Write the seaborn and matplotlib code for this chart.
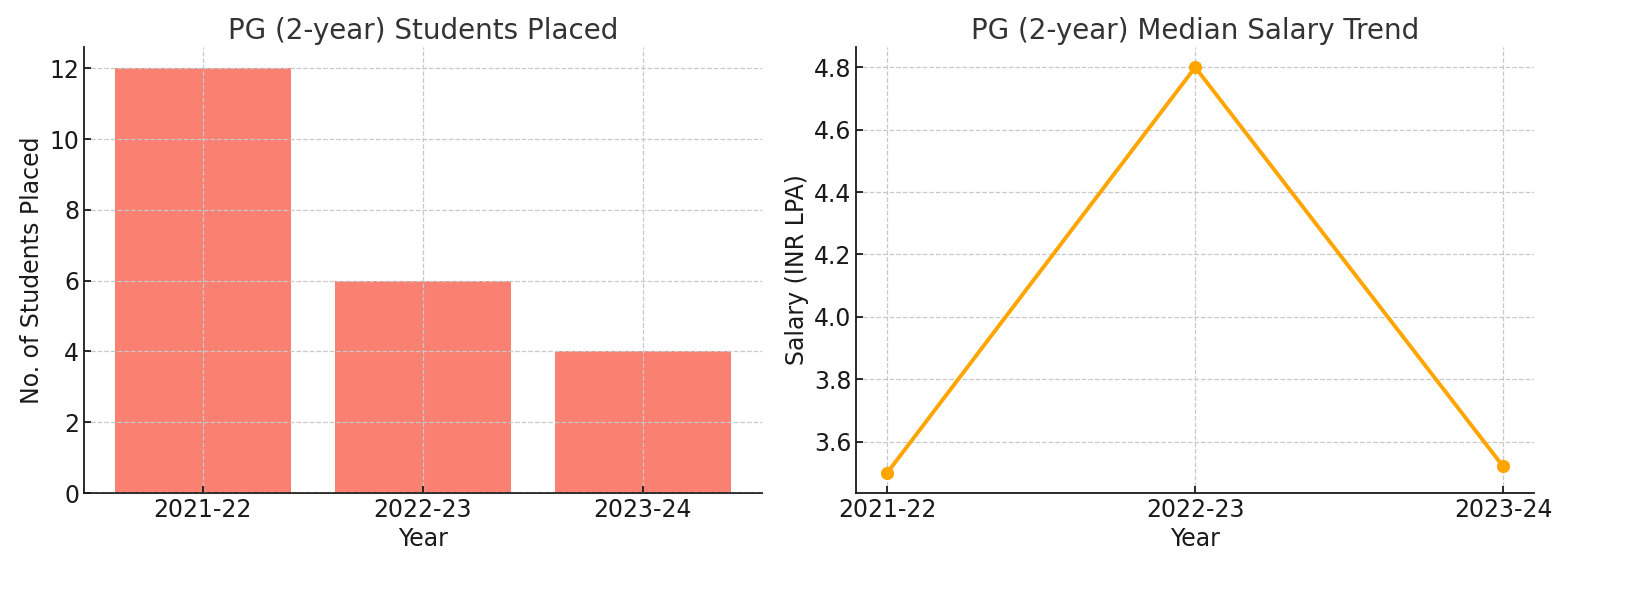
import matplotlib
matplotlib.use("Agg")
import matplotlib.pyplot as plt
import seaborn as sns
import pandas as pd

# data
years = ["2021-22", "2022-23", "2023-24"]
students_placed = [12, 6, 4]
median_salary = [3.5, 4.8, 3.52]

sns.set_theme(style="ticks")
plt.rcParams["font.family"] = ["DejaVu Sans"]
plt.rcParams.update({
    "axes.edgecolor": "#1a1a1a",
    "axes.linewidth": 1.3,
    "xtick.direction": "in",
    "ytick.direction": "in",
    "xtick.major.size": 5,
    "ytick.major.size": 5,
    "xtick.major.width": 1.3,
    "ytick.major.width": 1.3,
    "xtick.color": "#1a1a1a",
    "ytick.color": "#1a1a1a",
    "axes.labelcolor": "#1a1a1a",
})

df_placed = pd.DataFrame({"Year": years, "Placed": students_placed})
df_salary = pd.DataFrame({"Year": years, "Salary": median_salary})

fig, (ax1, ax2) = plt.subplots(1, 2, figsize=(16.26, 5.9), dpi=100)
fig.subplots_adjust(left=0.0517, right=0.9434, bottom=0.1644, top=0.9203, wspace=0.14)

grid_kw = dict(color="#c8c8c8", linestyle="--", linewidth=0.9)

# ---- left: students placed
sns.barplot(data=df_placed, x="Year", y="Placed", color="#FA8072", saturation=1,
            width=0.8, linewidth=0, ax=ax1)
n = len(years)
pad = 0.05 * (n - 1 + 0.8)
ax1.set_xlim(-0.4 - pad, n - 1 + 0.4 + pad)
ax1.set_ylim(0, max(students_placed) * 1.05)
ax1.set_axisbelow(False)
ax1.grid(True, **grid_kw)
ax1.set_title("PG (2-year) Students Placed", fontsize=20, color="#333333")
ax1.set_xlabel("Year", fontsize=17)
ax1.set_ylabel("No. of Students Placed", fontsize=17)
ax1.tick_params(labelsize=17)

# ---- right: median salary
sns.lineplot(data=df_salary, x="Year", y="Salary", color="#FFA500", linewidth=2.8,
             marker="o", markersize=9.5, markeredgewidth=0, ax=ax2)
ax2.margins(x=0.05, y=0.05)
ax2.grid(True, **grid_kw)
ax2.set_title("PG (2-year) Median Salary Trend", fontsize=20, color="#333333")
ax2.set_xlabel("Year", fontsize=17)
ax2.set_ylabel("Salary (INR LPA)", fontsize=17)
ax2.tick_params(labelsize=17)

for ax in (ax1, ax2):
    sns.despine(ax=ax)

fig.savefig("out.png", dpi=100)
